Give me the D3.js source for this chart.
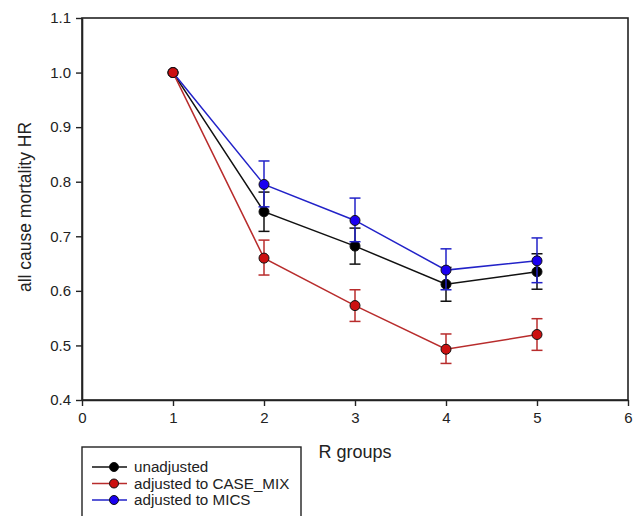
<!DOCTYPE html>
<html>
<head>
<meta charset="utf-8">
<script src="https://cdn.jsdelivr.net/npm/d3@7"></script>
<style>
  body { margin: 0; background: #fff; }
  svg { display: block; font-family: "Liberation Sans", Arial, sans-serif; }
</style>
</head>
<body>
<svg id="chart" width="639" height="516"></svg>
<script>
// data
const groups = [1, 2, 3, 4, 5];
const unadjusted = [1.0, 0.745, 0.682, 0.612, 0.635];
const unadjustedLo = [1.0, 0.709, 0.649, 0.581, 0.603];
const unadjustedHi = [1.0, 0.781, 0.715, 0.643, 0.668];
const caseMix = [1.0, 0.660, 0.573, 0.493, 0.520];
const caseMixLo = [1.0, 0.629, 0.544, 0.467, 0.491];
const caseMixHi = [1.0, 0.693, 0.602, 0.521, 0.549];
const mics = [1.0, 0.795, 0.729, 0.638, 0.655];
const micsLo = [1.0, 0.754, 0.690, 0.602, 0.615];
const micsHi = [1.0, 0.838, 0.770, 0.677, 0.697];
const xTicks = [0, 1, 2, 3, 4, 5, 6];
const yTicks = [0.4, 0.5, 0.6, 0.7, 0.8, 0.9, 1.0, 1.1];

const seriesList = [
    { name: "unadjusted", mean: unadjusted, lo: unadjustedLo, hi: unadjustedHi, line: "#111111", fill: "#000000" },
    { name: "adjusted to MICS", mean: mics, lo: micsLo, hi: micsHi, line: "#2222c8", fill: "#1a00f0" },
    { name: "adjusted to CASE_MIX", mean: caseMix, lo: caseMixLo, hi: caseMixHi, line: "#b82c2c", fill: "#cc1010" }
];
const legendOrder = ["unadjusted", "adjusted to CASE_MIX", "adjusted to MICS"];

const fontFam = "'Liberation Sans', Arial, sans-serif";
const svg = d3.select("#chart");
const margin = { top: 18, left: 82, right: 11, bottom: 116 };
const width = 639, height = 516;
const innerWidth = width - margin.left - margin.right;
const innerHeight = height - margin.top - margin.bottom;

const g = svg.append("g").attr("transform", `translate(${margin.left},${margin.top})`);

const xScale = d3.scaleLinear().domain([0, 6]).range([0, innerWidth]);
const yScale = d3.scaleLinear().domain([0.4, 1.1]).range([innerHeight, 0]);

// frame
g.append("rect")
    .attr("width", innerWidth)
    .attr("height", innerHeight)
    .attr("fill", "none")
    .attr("stroke", "#222")
    .attr("stroke-width", 1.6);

// X axis
const xAxis = g.append("g")
    .attr("transform", `translate(0,${innerHeight})`)
    .call(d3.axisBottom(xScale).tickValues(xTicks).tickFormat(d3.format("d")).tickSize(6).tickSizeOuter(0))
    .attr("font-family", fontFam);
xAxis.select(".domain").attr("stroke", "#222").attr("stroke-width", 1.6);
xAxis.selectAll(".tick line").attr("stroke", "#222").attr("stroke-width", 1.4);
xAxis.selectAll("text").attr("font-size", 15).attr("fill", "#222").attr("y", 12).attr("dy", "0.71em");

// Y axis
const yAxis = g.append("g")
    .call(d3.axisLeft(yScale).tickValues(yTicks).tickFormat(d3.format(".1f")).tickSize(6).tickSizeOuter(0))
    .attr("font-family", fontFam);
yAxis.select(".domain").attr("stroke", "#222").attr("stroke-width", 1.6);
yAxis.selectAll(".tick line").attr("stroke", "#222").attr("stroke-width", 1.4);
yAxis.selectAll("text").attr("font-size", 15).attr("fill", "#222").attr("x", -11);

// axis labels
g.append("text")
    .attr("x", innerWidth / 2)
    .attr("y", innerHeight + 58)
    .attr("text-anchor", "middle")
    .attr("font-size", 18)
    .attr("fill", "#222")
    .text("R groups");

g.append("text")
    .attr("transform", "rotate(-90)")
    .attr("x", -innerHeight / 2 + 2)
    .attr("y", -51)
    .attr("text-anchor", "middle")
    .attr("font-size", 17.5)
    .attr("fill", "#222")
    .text("all cause mortality HR");

const line = d3.line().x(d => xScale(d[0])).y(d => yScale(d[1]));
const capHalf = 5.5;

seriesList.forEach(s => {
    const pts = groups.map((gr, i) => [gr, s.mean[i], s.lo[i], s.hi[i]]);
    const sg = g.append("g");

    // error bars
    pts.filter(p => p[3] > p[2]).forEach(p => {
        const x = xScale(p[0]);
        sg.append("line").attr("x1", x).attr("x2", x).attr("y1", yScale(p[2])).attr("y2", yScale(p[3]))
            .attr("stroke", s.line).attr("stroke-width", 1.5);
        [p[2], p[3]].forEach(v => {
            sg.append("line").attr("x1", x - capHalf).attr("x2", x + capHalf).attr("y1", yScale(v)).attr("y2", yScale(v))
                .attr("stroke", s.line).attr("stroke-width", 1.5);
        });
    });

    sg.append("path")
        .datum(pts)
        .attr("d", line)
        .attr("fill", "none")
        .attr("stroke", s.line)
        .attr("stroke-width", 1.5);

    sg.selectAll("circle")
        .data(pts)
        .enter()
        .append("circle")
        .attr("cx", d => xScale(d[0]))
        .attr("cy", d => yScale(d[1]))
        .attr("r", 5)
        .attr("fill", s.fill)
        .attr("stroke", "#111")
        .attr("stroke-width", 1);
});

// Legend (box runs off the bottom edge like in the original)
const legend = svg.append("g").attr("transform", "translate(82,447)");
legend.append("rect")
    .attr("width", 219)
    .attr("height", 72)
    .attr("fill", "#fff")
    .attr("stroke", "#222")
    .attr("stroke-width", 1.4);

legendOrder.forEach((name, i) => {
    const s = seriesList.find(d => d.name === name);
    const row = legend.append("g").attr("transform", `translate(0,${20 + i * 16.5})`);
    row.append("line").attr("x1", 10).attr("x2", 45).attr("y1", 0).attr("y2", 0)
        .attr("stroke", s.line).attr("stroke-width", 1.5);
    row.append("circle").attr("cx", 32).attr("cy", 0).attr("r", 4.5)
        .attr("fill", s.fill).attr("stroke", "#111").attr("stroke-width", 1);
    row.append("text").attr("x", 52).attr("y", 0).attr("dy", "0.35em")
        .attr("font-size", 15.2).attr("fill", "#222").text(name);
});
</script>
</body>
</html>
